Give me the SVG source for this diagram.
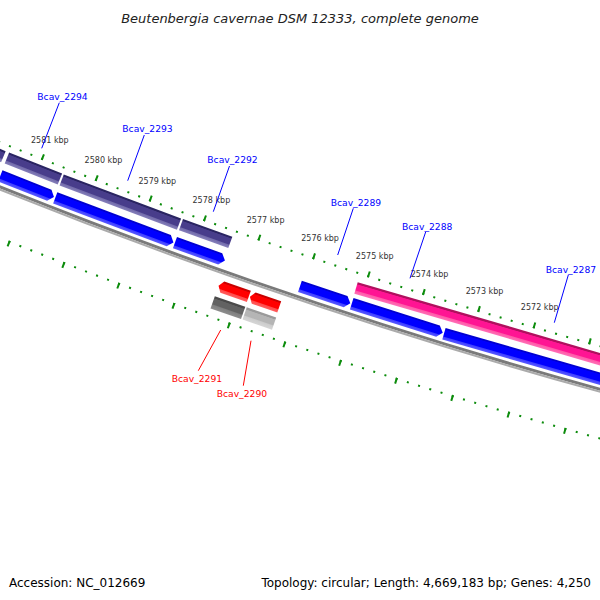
<svg xmlns="http://www.w3.org/2000/svg" width="600" height="600" viewBox="0 0 600 600">
<style>
.t{font-family:"DejaVu Sans",sans-serif}
.title{font-size:13px;font-style:italic;fill:#222;text-anchor:middle}
.foot{font-size:12px;fill:#000}
.kbp{font-size:8px;fill:#333;text-anchor:middle}
.lbl{font-size:9.2px;fill:#0000ff}
.lblr{fill:#ff0000}
.ln{stroke:#0000ff;stroke-width:1;fill:none}
.lnr{stroke:#ff0000}
.tk{fill:none;stroke:#0c8c0c}
</style>
<defs>
<linearGradient id="gPur" gradientUnits="userSpaceOnUse" x1="5615" y1="0" x2="5627" y2="0">
<stop offset="0" stop-color="#2a2462"/><stop offset="0.14" stop-color="#2a2462"/><stop offset="0.2" stop-color="#483d8b"/><stop offset="0.68" stop-color="#483d8b"/><stop offset="0.76" stop-color="#736cab"/><stop offset="1" stop-color="#8680bb"/>
</linearGradient>
<linearGradient id="gPink" gradientUnits="userSpaceOnUse" x1="5615" y1="0" x2="5627" y2="0">
<stop offset="0" stop-color="#b0105e"/><stop offset="0.16" stop-color="#b0105e"/><stop offset="0.22" stop-color="#ff1493"/><stop offset="0.68" stop-color="#ff1493"/><stop offset="0.76" stop-color="#ff5aa8"/><stop offset="1" stop-color="#ff70b8"/>
</linearGradient>
<linearGradient id="gBlu" gradientUnits="userSpaceOnUse" x1="5634" y1="0" x2="5646" y2="0">
<stop offset="0" stop-color="#0000d0"/><stop offset="0.12" stop-color="#0000d0"/><stop offset="0.18" stop-color="#0000ff"/><stop offset="0.7" stop-color="#0000ff"/><stop offset="0.78" stop-color="#4040ff"/><stop offset="1" stop-color="#5a5aff"/>
</linearGradient>
<linearGradient id="gRed" gradientUnits="userSpaceOnUse" x1="5660" y1="0" x2="5672" y2="0">
<stop offset="0" stop-color="#c80000"/><stop offset="0.14" stop-color="#c80000"/><stop offset="0.2" stop-color="#ff0000"/><stop offset="0.68" stop-color="#ff0000"/><stop offset="0.76" stop-color="#ff4a4a"/><stop offset="1" stop-color="#ff6060"/>
</linearGradient>
<linearGradient id="gDk" gradientUnits="userSpaceOnUse" x1="5677" y1="0" x2="5690" y2="0">
<stop offset="0" stop-color="#4a4a4a"/><stop offset="0.15" stop-color="#4a4a4a"/><stop offset="0.2" stop-color="#626262"/><stop offset="0.62" stop-color="#626262"/><stop offset="0.7" stop-color="#808080"/><stop offset="1" stop-color="#8e8e8e"/>
</linearGradient>
<linearGradient id="gLt" gradientUnits="userSpaceOnUse" x1="5677" y1="0" x2="5690" y2="0">
<stop offset="0" stop-color="#9a9a9a"/><stop offset="0.15" stop-color="#9a9a9a"/><stop offset="0.2" stop-color="#b5b5b5"/><stop offset="0.62" stop-color="#b5b5b5"/><stop offset="0.7" stop-color="#cccccc"/><stop offset="1" stop-color="#d6d6d6"/>
</linearGradient>
</defs>
<rect width="600" height="600" fill="#ffffff"/>
<text class="t title" x="300" y="22.5">Beutenbergia cavernae DSM 12333, complete genome</text>

<g id="ruler-outer">
<path class="tk" stroke-width="2" stroke-dasharray="2 9.5536" stroke-dashoffset="1" d="M -64.91 115.52 A 5609 5609 0 0 0 645.10 358.49"/>
<path class="tk" stroke-width="6" stroke-dasharray="2 55.7476" stroke-dashoffset="1" d="M -64.14 113.68 A 5607 5607 0 0 0 645.62 356.56"/>
</g>
<g id="ruler-inner">
<path class="tk" stroke-width="2" stroke-dasharray="2 9.7370" stroke-dashoffset="1" d="M -99.30 197.61 A 5698 5698 0 0 0 621.98 444.43"/>
<path class="tk" stroke-width="6" stroke-dasharray="2 56.7054" stroke-dashoffset="1" d="M -100.07 199.46 A 5700 5700 0 0 0 621.46 446.36"/>
</g>
<g id="backbone">
<path fill="none" stroke="#7a7a7a" stroke-width="3" d="M -80.95 153.80 A 5650.5 5650.5 0 0 0 634.32 398.56"/>
<path fill="none" stroke="#ababab" stroke-width="2" d="M -81.91 156.11 A 5653 5653 0 0 0 633.67 400.98"/>
</g>

<g id="kbp-labels">
<text class="t kbp" transform="translate(2102 -5058) rotate(111.546) translate(5588 0) rotate(-111.546)" y="3">2581 kbp</text>
<text class="t kbp" transform="translate(2102 -5058) rotate(110.9559) translate(5588 0) rotate(-110.9559)" y="3">2580 kbp</text>
<text class="t kbp" transform="translate(2102 -5058) rotate(110.3658) translate(5588 0) rotate(-110.3658)" y="3">2579 kbp</text>
<text class="t kbp" transform="translate(2102 -5058) rotate(109.7757) translate(5588 0) rotate(-109.7757)" y="3">2578 kbp</text>
<text class="t kbp" transform="translate(2102 -5058) rotate(109.1856) translate(5588 0) rotate(-109.1856)" y="3">2577 kbp</text>
<text class="t kbp" transform="translate(2102 -5058) rotate(108.5955) translate(5588 0) rotate(-108.5955)" y="3">2576 kbp</text>
<text class="t kbp" transform="translate(2102 -5058) rotate(108.0054) translate(5588 0) rotate(-108.0054)" y="3">2575 kbp</text>
<text class="t kbp" transform="translate(2102 -5058) rotate(107.4153) translate(5588 0) rotate(-107.4153)" y="3">2574 kbp</text>
<text class="t kbp" transform="translate(2102 -5058) rotate(106.8252) translate(5588 0) rotate(-106.8252)" y="3">2573 kbp</text>
<text class="t kbp" transform="translate(2102 -5058) rotate(106.2351) translate(5588 0) rotate(-106.2351)" y="3">2572 kbp</text>
</g>

<g id="gene-left-edge">
<g transform="translate(2102 -5058) rotate(112.3187)">
<rect x="5615" y="-38.9" width="12" height="78.8" fill="url(#gPur)"/>
<polygon points="5634,-34.9 5640,-39.9 5646,-34.9 5646,39.9 5634,39.9" fill="url(#gBlu)"/>
</g>
</g>

<g id="Bcav_2294">
<g transform="translate(2102 -5058) rotate(111.593)">
<rect x="5615" y="-28.5" width="12" height="57" fill="url(#gPur)"/>
<polygon points="5634,28.1 5634,-24.6 5640,-29.6 5646,-24.6 5646,28.1" fill="url(#gBlu)"/>
</g>
<text class="t lbl" x="37.3" y="99.8">Bcav_2294</text>
</g>

<g id="Bcav_2293">
<g transform="translate(2102 -5058) rotate(110.6432)">
<rect x="5615" y="-62.7" width="12" height="125.4" fill="url(#gPur)"/>
<polygon points="5634,62.4 5634,-58.9 5640,-63.9 5646,-58.9 5646,62.4" fill="url(#gBlu)"/>
</g>
<text class="t lbl" x="122.3" y="132">Bcav_2293</text>
</g>

<g id="Bcav_2292">
<g transform="translate(2102 -5058) rotate(109.7167)">
<rect x="5615" y="-26.2" width="12" height="52.4" fill="url(#gPur)"/>
<polygon points="5634,25.8 5634,-22.3 5640,-27.3 5646,-22.3 5646,25.8" fill="url(#gBlu)"/>
</g>
<text class="t lbl" x="207.3" y="163">Bcav_2292</text>
</g>

<g id="Bcav_2291">
<g transform="translate(2102 -5058) rotate(109.2505)">
<polygon points="5660,-15.8 5660,12.3 5666,16.3 5672,12.3 5672,-15.8" fill="url(#gRed)"/>
<rect x="5677" y="-15.9" width="13" height="32.3" fill="url(#gDk)"/>
</g>
<text class="t lbl lblr" x="171.7" y="381.5">Bcav_2291</text>
</g>

<g id="Bcav_2290">
<g transform="translate(2102 -5058) rotate(108.92)">
<polygon points="5660,-15.25 5660,11.75 5666,15.75 5672,11.75 5672,-15.25" fill="url(#gRed)"/>
<rect x="5677" y="-15.8" width="13" height="31.1" fill="url(#gLt)"/>
</g>
<text class="t lbl lblr" x="216.7" y="397">Bcav_2290</text>
</g>

<g id="Bcav_2289">
<g transform="translate(2102 -5058) rotate(108.3713)">
<polygon points="5634,25.8 5634,-22.3 5640,-27.3 5646,-22.3 5646,25.8" fill="url(#gBlu)"/>
</g>
<text class="t lbl" x="330.7" y="205.8">Bcav_2289</text>
</g>

<g id="pink-feature">
<g transform="translate(2102 -5058) rotate(106.2764)">
<rect x="5615" y="-177.7" width="12" height="355.4" fill="url(#gPink)"/>
</g>
</g>

<g id="Bcav_2288">
<g transform="translate(2102 -5058) rotate(107.6012)">
<polygon points="5634,47 5634,-43.5 5640,-48.5 5646,-43.5 5646,47" fill="url(#gBlu)"/>
</g>
<text class="t lbl" x="402" y="229.5">Bcav_2288</text>
</g>

<g id="Bcav_2287">
<g transform="translate(2102 -5058) rotate(106.0463)">
<polygon points="5634,103.1 5634,-99.6 5640,-104.6 5646,-99.6 5646,103.1" fill="url(#gBlu)"/>
</g>
<text class="t lbl" x="545.7" y="273">Bcav_2287</text>
</g>

<g id="connectors">
<line class="ln" x1="59.3" y1="102.7" x2="41.7" y2="148.3"/>
<line class="ln" x1="144.3" y1="135" x2="127.7" y2="180.7"/>
<line class="ln" x1="229.5" y1="166" x2="213.3" y2="211.7"/>
<line class="ln" x1="353.3" y1="208.3" x2="337.7" y2="255"/>
<line class="ln" x1="425.7" y1="231.9" x2="410" y2="278.3"/>
<line class="ln" x1="568.3" y1="275" x2="554.3" y2="322.7"/>
<line class="ln lnr" x1="220.7" y1="330" x2="198.3" y2="370.7"/>
<line class="ln lnr" x1="251" y1="340.7" x2="243.3" y2="385.7"/>
</g>

<text class="t foot" x="9" y="586.5">Accession: NC_012669</text>
<text class="t foot" x="591" y="586.5" text-anchor="end">Topology: circular; Length: 4,669,183 bp; Genes: 4,250</text>
</svg>
